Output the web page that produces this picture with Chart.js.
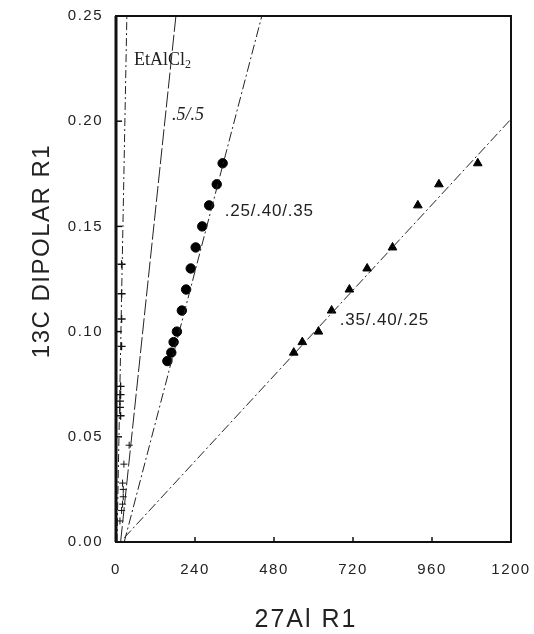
<!DOCTYPE html>
<html>
<head>
<meta charset="utf-8">
<script src="https://cdn.jsdelivr.net/npm/chart.js@4.4.1/dist/chart.umd.min.js"></script>
<style>
  body { margin: 0; background: #fff; }
  #wrap { width: 534px; height: 634px; }
</style>
</head>
<body>
<div id="wrap"><canvas id="relaxChart"></canvas></div>
<script>
// values
const circleX = [156, 168, 175, 185, 200, 213, 227, 242, 262, 283, 306, 324];
const circleY = [0.086, 0.090, 0.095, 0.100, 0.110, 0.120, 0.130, 0.140, 0.150, 0.160, 0.170, 0.180];
const triX = [540, 566, 615, 655, 709, 763, 840, 917, 981, 1099];
const triY = [0.090, 0.095, 0.100, 0.110, 0.120, 0.130, 0.140, 0.160, 0.170, 0.180];
const etCrossX = [17, 17, 17, 17, 14, 14, 12, 12, 14];
const etCrossY = [0.132, 0.118, 0.106, 0.093, 0.074, 0.070, 0.067, 0.064, 0.060];
const halfCrossX = [40, 24, 20, 22, 22, 20, 17, 12];
const halfCrossY = [0.046, 0.037, 0.028, 0.025, 0.0215, 0.018, 0.015, 0.010];

// fitted lines (end points)
const etLineX = [3, 33];
const etLineY = [0, 0.25];
const halfLineX = [14, 182];
const halfLineY = [0, 0.25];
const circleLineX = [25, 443];
const circleLineY = [0, 0.25];
const triLineX = [25, 1200];
const triLineY = [0.002, 0.201];

const seriesNames = ['EtAlCl', '.5/.5', '.25/.40/.35', '.35/.40/.25'];
const xTicks = [0, 240, 480, 720, 960, 1200];
const yTicks = [0, 0.05, 0.10, 0.15, 0.20, 0.25];
const xTitle = '27Al R1';
const yTitle = '13C DIPOLAR R1';

function pts(xs, ys) {
    return xs.map((x, i) => ({ x: x, y: ys[i] }));
}

function lineSet(xs, ys, dash) {
    return {
        type: 'line', data: pts(xs, ys), borderColor: '#222', borderWidth: 1,
        borderDash: dash, pointRadius: 0, fill: false
    };
}

// frame, inward ticks, in-plot labels, axis titles
const decor = {
    id: 'decor',
    beforeDraw(chart) {
        chart.ctx.letterSpacing = '1.5px';
    },
    afterDraw(chart) {
        const c = chart.ctx, a = chart.chartArea;
        const xs = chart.scales.x, ys = chart.scales.y;
        c.letterSpacing = '0px';
        c.save();
        c.strokeStyle = '#111';
        c.lineWidth = 2;
        c.strokeRect(a.left, a.top, a.right - a.left, a.bottom - a.top);
        c.lineWidth = 3;
        c.beginPath(); c.moveTo(a.left, a.top); c.lineTo(a.left, a.bottom); c.stroke();
        c.lineWidth = 1.5;
        xTicks.slice(1, -1).forEach(v => {
            const p = xs.getPixelForValue(v);
            c.beginPath(); c.moveTo(p, a.bottom); c.lineTo(p, a.bottom - 5); c.stroke();
        });
        yTicks.slice(1, -1).forEach(v => {
            const p = ys.getPixelForValue(v);
            c.beginPath(); c.moveTo(a.left, p); c.lineTo(a.left + 6, p); c.stroke();
        });

        c.fillStyle = '#222';
        c.textBaseline = 'middle';
        c.font = '18px "Liberation Serif"';
        let px = xs.getPixelForValue(55), py = ys.getPixelForValue(0.229);
        c.fillText(seriesNames[0], px, py);
        const w = c.measureText(seriesNames[0]).width;
        c.font = '12px "Liberation Serif"';
        c.fillText('2', px + w, py + 5);

        c.font = 'italic 18px "Liberation Serif"';
        c.fillText(seriesNames[1], xs.getPixelForValue(170), ys.getPixelForValue(0.203));
        c.font = '17px "Liberation Sans"';
        c.letterSpacing = '0.8px';
        c.fillText(seriesNames[2], xs.getPixelForValue(330), ys.getPixelForValue(0.157));
        c.fillText(seriesNames[3], xs.getPixelForValue(680), ys.getPixelForValue(0.1055));

        c.textAlign = 'center';
        c.letterSpacing = '2px';
        c.font = '25px "Liberation Sans"';
        c.fillText(xTitle, 306, 620);

        c.translate(42, 251);
        c.rotate(-Math.PI / 2);
        c.letterSpacing = '1.5px';
        c.font = '24px "Liberation Sans"';
        c.fillText(yTitle, 0, 0);
        c.restore();
        c.letterSpacing = '0px';
    }
};

new Chart(document.getElementById('relaxChart'), {
    type: 'scatter',
    data: {
        datasets: [
            lineSet(etLineX, etLineY, [8, 3, 2, 3]),
            lineSet(halfLineX, halfLineY, [16, 3]),
            lineSet(circleLineX, circleLineY, [10, 3, 2, 3]),
            lineSet(triLineX, triLineY, [10, 3, 2, 3]),
            { data: pts(etCrossX, etCrossY), pointStyle: 'cross', pointRadius: 4, borderColor: '#111', borderWidth: 1.3 },
            { data: pts(halfCrossX, halfCrossY), pointStyle: 'cross', pointRadius: 3.5, borderColor: '#111', borderWidth: 1 },
            { data: pts(circleX, circleY), pointStyle: 'circle', pointRadius: 4.7, backgroundColor: '#000', borderColor: '#000' },
            { data: pts(triX, triY), pointStyle: 'triangle', pointRadius: 5, backgroundColor: '#000', borderColor: '#000' }
        ]
    },
    options: {
        responsive: true,
        maintainAspectRatio: false,
        animation: false,
        layout: { padding: { left: 0, right: 23, top: 16, bottom: 0 } },
        plugins: { legend: { display: false }, tooltip: { enabled: false } },
        scales: {
            x: {
                type: 'linear', min: 0, max: 1200,
                afterBuildTicks: s => { s.ticks = xTicks.map(v => ({ value: v })); },
                afterFit: s => { s.height = 92; s.paddingLeft = 0; s.paddingRight = 0; },
                grid: { display: false, drawTicks: false },
                border: { display: false },
                ticks: { padding: 19, color: '#222', font: { family: 'Liberation Sans', size: 15 },
                         callback: v => String(v) }
            },
            y: {
                type: 'linear', min: 0, max: 0.25,
                afterBuildTicks: s => { s.ticks = yTicks.map(v => ({ value: v })); },
                afterFit: s => { s.width = 116; s.paddingTop = 0; s.paddingBottom = 0; },
                grid: { display: false, drawTicks: false },
                border: { display: false },
                ticks: { padding: 13, color: '#222', font: { family: 'Liberation Sans', size: 15 },
                         callback: v => v.toFixed(2) }
            }
        }
    },
    plugins: [decor]
});
</script>
</body>
</html>
